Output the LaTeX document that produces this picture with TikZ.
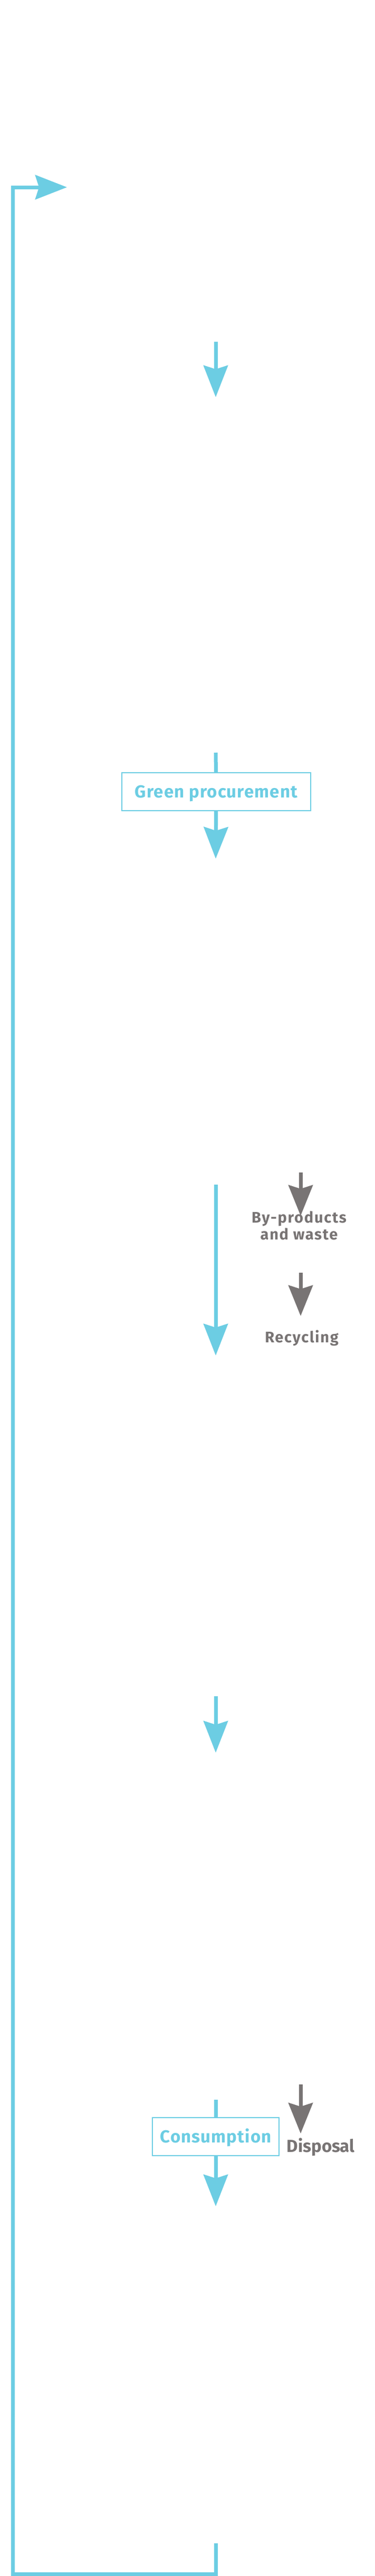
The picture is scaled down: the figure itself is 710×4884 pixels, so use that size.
\documentclass[tikz,border=0pt]{standalone}
\usepackage{fontspec}
\setmainfont{Fira Sans}
\usepackage{tikz}
\usetikzlibrary{positioning, arrows.meta}
\definecolor{flowblue}{RGB}{108,205,227}
\definecolor{wastegray}{RGB}{120,116,116}
\tikzstyle{flowline} = [draw=flowblue, line width=7pt]
\tikzstyle{bluearrow} = [flowline, -{Stealth[length=60pt, width=46pt, inset=7pt]}]
\tikzstyle{grayarrow} = [draw=wastegray, line width=7pt, -{Stealth[length=58pt, width=46pt, inset=7pt]}]
\tikzstyle{stagebox} = [draw=flowblue, line width=2pt, fill=white, rectangle, 
    minimum height=72pt, text=flowblue, text height=23pt, text depth=0pt,
    font=\bfseries\fontsize{33}{33}\selectfont\addfontfeature{LetterSpace=3.5}]
\tikzstyle{wastelabel} = [text=wastegray, align=center, inner sep=0pt,
    font=\bfseries\fontsize{29}{32}\selectfont\addfontfeature{LetterSpace=6}]

\begin{document}
\begin{tikzpicture}[x=1pt, y=-1pt]
     \useasboundingbox (0,0) rectangle (710,4884);

     % main flow
     \coordinate (startin) at (409,648);
     \coordinate (startout) at (409,753);
     \draw [bluearrow] (startin) -- (startout);

     \node [stagebox, minimum width=358pt] (greenproc) at (410,1501) {Green procurement};
     \coordinate (greenin) at (409,1427);
     \coordinate (greenout) at (409,1628);
     \draw [flowline] (greenin) -- (greenproc);
     \draw [bluearrow] (greenproc) -- (greenout);

     \coordinate (makein) at (409,2246);
     \coordinate (makeout) at (409,2570);
     \draw [bluearrow] (makein) -- (makeout);

     \coordinate (shipin) at (409,3216);
     \coordinate (shipout) at (409,3323);
     \draw [bluearrow] (shipin) -- (shipout);

     \node [stagebox, minimum width=240pt] (consumption) at (409,4051) {Consumption};
     \coordinate (usein) at (409,3981);
     \coordinate (useout) at (409,4183);
     \draw [flowline] (usein) -- (consumption);
     \draw [bluearrow] (consumption) -- (useout);

     % side flow
     \node [wastelabel, anchor=base] (byproducts) at (567,2350) {By-products\\and waste};
     \coordinate (wastein) at (570,2223);
     \coordinate (wasteout) at (570,2305);
     \draw [grayarrow] (wastein) -- (wasteout);

     \node [wastelabel, anchor=base] (recycling) at (572,2545) {Recycling};
     \coordinate (recyclein) at (570,2413);
     \coordinate (recycleout) at (570,2495);
     \draw [grayarrow] (recyclein) -- (recycleout);

     \node [wastelabel, anchor=base, font=\bfseries\fontsize{33}{33}\selectfont] (disposal) at (608,4080) {Disposal};
     \coordinate (disposein) at (570,3952);
     \coordinate (disposeout) at (570,4045);
     \draw [grayarrow] (disposein) -- (disposeout);

     % loop back
     \coordinate (loopstub) at (409,4822);
     \coordinate (loopcorner) at (24,4880);
     \coordinate (looptip) at (127,355);
     \draw [bluearrow] (loopstub) |- (loopcorner) |- (looptip);
\end{tikzpicture}
\end{document}
